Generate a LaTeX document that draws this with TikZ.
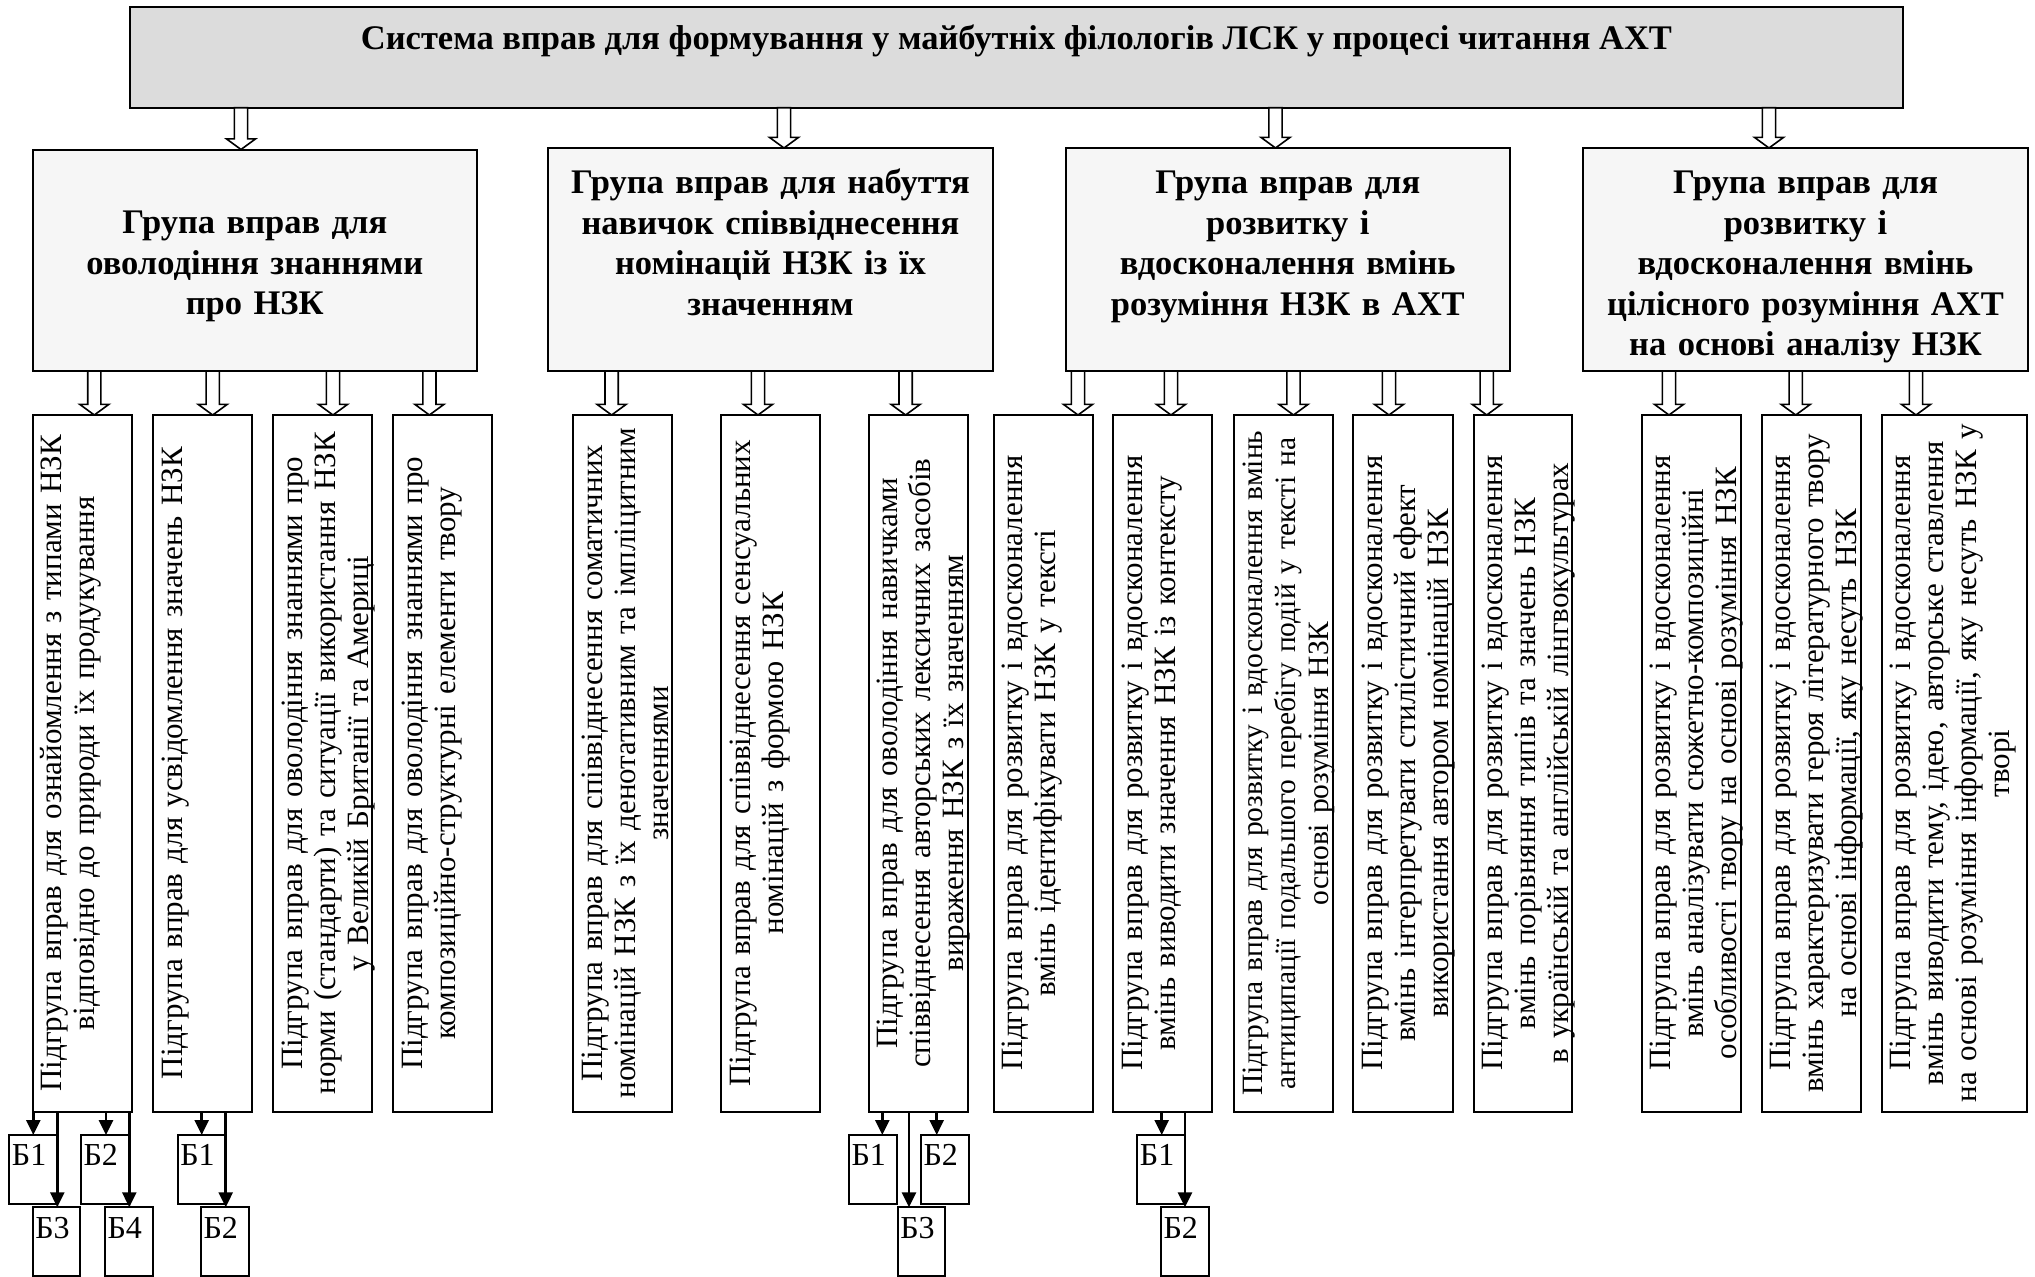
\documentclass[tikz,border=0pt]{standalone}
\usepackage{fontspec}
\setmainfont{Liberation Serif}
\usetikzlibrary{calc,arrows.meta}

\definecolor{capfill}{RGB}{220,220,220}
\definecolor{groupfill}{RGB}{246,246,246}

\tikzset{
  frame/.style={draw=black, line width=2pt, rectangle, inner sep=0pt, outer sep=0pt, anchor=north west},
  capbox/.style={frame, fill=capfill},
  groupbox/.style={frame, fill=groupfill},
  subbox/.style={frame, fill=white, minimum height=696.5pt},
  bbox/.style={frame, fill=white, minimum width=47.5pt, minimum height=69pt},
  captext/.style={font=\fontsize{34.5}{40}\selectfont\bfseries, anchor=base, inner sep=0pt},
  grouptext/.style={font=\fontsize{34.5}{40.5}\selectfont\bfseries, align=center, anchor=north, inner sep=0pt, text width=436pt},
  subtext/.style={font=\fontsize{31}{33}\selectfont, align=center, anchor=north, inner sep=0pt, rotate=90, text width=694pt},
  blabel/.style={font=\fontsize{32}{34}\selectfont, anchor=base west, inner sep=0pt},
  link/.style={line width=2.6pt, -{Triangle[width=14pt,length=15pt]}},
  hollow/.style={draw=black, line width=1.6pt, fill=white, line join=miter},
}

% hollow block arrow pointing down from #1 to #2 (same x)
\newcommand\hollowarrow[2]{%
  \draw[hollow] let \p1=(#1), \p2=(#2) in
    (\x1-6.6pt,\y1) -- (\x1-6.6pt,\y2+10.6pt) -- (\x1-14.5pt,\y2+10.6pt) --
    (\x1,\y2) -- (\x1+14.5pt,\y2+10.6pt) -- (\x1+6.6pt,\y2+10.6pt) --
    (\x1+6.6pt,\y1) -- cycle;}

\begin{document}
\begin{tikzpicture}[x=1pt,y=-1pt]
\useasboundingbox (0,0) rectangle (2035,1277);

% title block
\node[capbox, minimum width=1773pt, minimum height=101pt] (top) at (130,6.7) {};
\node[captext] (topT) at (1016.5,49.3)
  {Система вправ для формування у майбутніх філологів ЛСК у процесі читання АХТ};

% four groups of exercises
\node[groupbox, minimum width=444.5pt, minimum height=221.5pt] (G1) at (32.5,149.5) {};
\node[groupbox, minimum width=445pt, minimum height=223pt] (G2) at (548,148) {};
\node[groupbox, minimum width=443.5pt, minimum height=223pt] (G3) at (1066,148) {};
\node[groupbox, minimum width=445pt, minimum height=223pt] (G4) at (1583,148) {};

\node[grouptext] (G1t) at (254.8,203.3)
  {\rule{0pt}{30pt}Група вправ для\\оволодіння знаннями\\про НЗК};
\node[grouptext] (G2t) at (770.5,163.3)
  {\rule{0pt}{30pt}Група вправ для набуття\\навичок співвіднесення\\номінацій НЗК із їх\\значенням};
\node[grouptext] (G3t) at (1287.8,163.3)
  {\rule{0pt}{30pt}Група вправ для\\розвитку і\\вдосконалення вмінь\\розуміння НЗК в АХТ};
\node[grouptext] (G4t) at (1805.5,163.3)
  {\rule{0pt}{30pt}Група вправ для\\розвитку і\\вдосконалення вмінь\\цілісного розуміння АХТ\\на основі аналізу НЗК};

% subgroups
\node[subbox, minimum width=99.6pt] (S1) at (32.7,415) {};
\node[subbox, minimum width=98.4pt] (S2) at (153.3,415) {};
\node[subbox, minimum width=99pt] (S3) at (273.3,415) {};
\node[subbox, minimum width=99pt] (S4) at (393.3,415) {};
\node[subbox, minimum width=99pt] (S5) at (573.3,415) {};
\node[subbox, minimum width=99pt] (S6) at (721,415) {};
\node[subbox, minimum width=99pt] (S7) at (868.5,415) {};
\node[subbox, minimum width=98.9pt] (S8) at (993.6,415) {};
\node[subbox, minimum width=99.1pt] (S9) at (1113.3,415) {};
\node[subbox, minimum width=98.9pt] (S10) at (1233.6,415) {};
\node[subbox, minimum width=99.3pt] (S11) at (1353.2,415) {};
\node[subbox, minimum width=98.7pt] (S12) at (1473.6,415) {};
\node[subbox, minimum width=99pt] (S13) at (1641.7,415) {};
\node[subbox, minimum width=99pt] (S14) at (1761.7,415) {};
\node[subbox, minimum width=145pt] (S15) at (1881.7,415) {};

\node[subtext] (T1) at ([xshift=4pt]S1.west)
  {\rule{0pt}{25pt}Підгрупа вправ для ознайомлення з типами НЗК\\відповідно до природи їх продукування};
\node[subtext] (T2) at ([xshift=4pt]S2.west)
  {\rule{0pt}{25pt}Підгрупа вправ для усвідомлення значень НЗК};
\node[subtext] (T3) at ([xshift=4pt]S3.west)
  {\rule{0pt}{25pt}Підгрупа вправ для оволодіння знаннями про\\норми (стандарти) та ситуації використання НЗК\\у Великій Британії та Америці};
\node[subtext] (T4) at ([xshift=4pt]S4.west)
  {\rule{0pt}{25pt}Підгрупа вправ для оволодіння знаннями про\\композиційно-структурні елементи твору};
\node[subtext] (T5) at ([xshift=4pt]S5.west)
  {\rule{0pt}{25pt}Підгрупа вправ для співвіднесення соматичних\\номінацій НЗК з їх денотативним та імпліцитним\\значеннями};
\node[subtext] (T6) at ([xshift=4pt]S6.west)
  {\rule{0pt}{25pt}Підгрупа вправ для співвіднесення сенсуальних\\номінацій з формою НЗК};
\node[subtext] (T7) at ([xshift=4pt]S7.west)
  {\rule{0pt}{25pt}Підгрупа вправ для оволодіння навичками\\співвіднесення авторських лексичних засобів\\вираження НЗК з їх значенням};
\node[subtext] (T8) at ([xshift=4pt]S8.west)
  {\rule{0pt}{25pt}Підгрупа вправ для розвитку і вдосконалення\\вмінь ідентифікувати НЗК у тексті};
\node[subtext] (T9) at ([xshift=4pt]S9.west)
  {\rule{0pt}{25pt}Підгрупа вправ для розвитку і вдосконалення\\вмінь виводити значення НЗК із контексту};
\node[subtext, font=\fontsize{29.5}{33}\selectfont] (T10) at ([xshift=4pt]S10.west)
  {\rule{0pt}{25pt}Підгрупа вправ для розвитку і вдосконалення вмінь\\антиципації подальшого перебігу подій у тексті на\\основі розуміння НЗК};
\node[subtext] (T11) at ([xshift=4pt]S11.west)
  {\rule{0pt}{25pt}Підгрупа вправ для розвитку і вдосконалення\\вмінь інтерпретувати стилістичний ефект\\використання автором номінацій НЗК};
\node[subtext] (T12) at ([xshift=4pt]S12.west)
  {\rule{0pt}{25pt}Підгрупа вправ для розвитку і вдосконалення\\вмінь порівняння типів та значень НЗК\\в українській та англійській лінгвокультурах};
\node[subtext] (T13) at ([xshift=4pt]S13.west)
  {\rule{0pt}{25pt}Підгрупа вправ для розвитку і вдосконалення\\вмінь аналізувати сюжетно-композиційні\\особливості твору на основі розуміння НЗК};
\node[subtext] (T14) at ([xshift=4pt]S14.west)
  {\rule{0pt}{25pt}Підгрупа вправ для розвитку і вдосконалення\\вмінь характеризувати героя літературного твору\\на основі інформації, яку несуть НЗК};
\node[subtext] (T15) at ([xshift=4pt]S15.west)
  {\rule{0pt}{25pt}Підгрупа вправ для розвитку і вдосконалення\\вмінь виводити тему, ідею, авторське ставлення\\на основі розуміння інформації, яку несуть НЗК у\\творі};

% hollow arrows: title -> groups
\foreach \g/\x [count=\i] in {G1/241, G2/784, G3/1275.5, G4/1769} {
  \coordinate (ta\i) at (\x,0);
  \hollowarrow{top.south -| ta\i}{\g.north -| ta\i}
}

% hollow arrows: groups -> subgroups
\foreach \g/\s/\x in {G1/S1/94.3, G1/S2/212.7, G1/S3/333, G1/S4/429.4,
                      G2/S5/611.6, G2/S6/758, G2/S7/905.6,
                      G3/S8/1078, G3/S9/1171, G3/S10/1293.5, G3/S11/1389, G3/S12/1486.7,
                      G4/S13/1669, G4/S14/1795.7, G4/S15/1916} {
  \coordinate (a\s) at (\x,0);
  \hollowarrow{\g.south -| a\s}{\s.north -| a\s}
}

% blocks under the subgroups
\node[bbox] (B1a) at (9.3,1135) {};
\node[bbox] (B1b) at (81,1135) {};
\node[bbox] (B1c) at (32.7,1207.3) {};
\node[bbox] (B1d) at (105,1207.3) {};
\node[bbox] (B2a) at (177.7,1135) {};
\node[bbox] (B2b) at (201,1207.3) {};
\node[bbox] (B7a) at (849,1135) {};
\node[bbox] (B7b) at (921,1135) {};
\node[bbox] (B7c) at (897.7,1207.3) {};
\node[bbox] (B9a) at (1137.3,1135) {};
\node[bbox] (B9b) at (1161,1207.3) {};

\foreach \b/\t in {B1a/Б1, B1b/Б2, B1c/Б3, B1d/Б4, B2a/Б1, B2b/Б2,
                   B7a/Б1, B7b/Б2, B7c/Б3, B9a/Б1, B9b/Б2} {
  \node[blabel] (\b-l) at ([xshift=2.4pt,yshift=-30.7pt]\b.north west) {\t};
}

% links to the blocks
\foreach \s/\b/\x [count=\i] in {S1/B1a/33.3, S1/B1c/57.3, S1/B1b/106, S1/B1d/129.3,
                                 S2/B2a/201.7, S2/B2b/225.7,
                                 S7/B7a/882.3, S7/B7c/909, S7/B7b/936.7,
                                 S9/B9a/1161.7, S9/B9b/1185} {
  \coordinate (c\i) at (\x,0);
  \draw[link] (\s.south -| c\i) -- (\b.north -| c\i);
}
\end{tikzpicture}
\end{document}
